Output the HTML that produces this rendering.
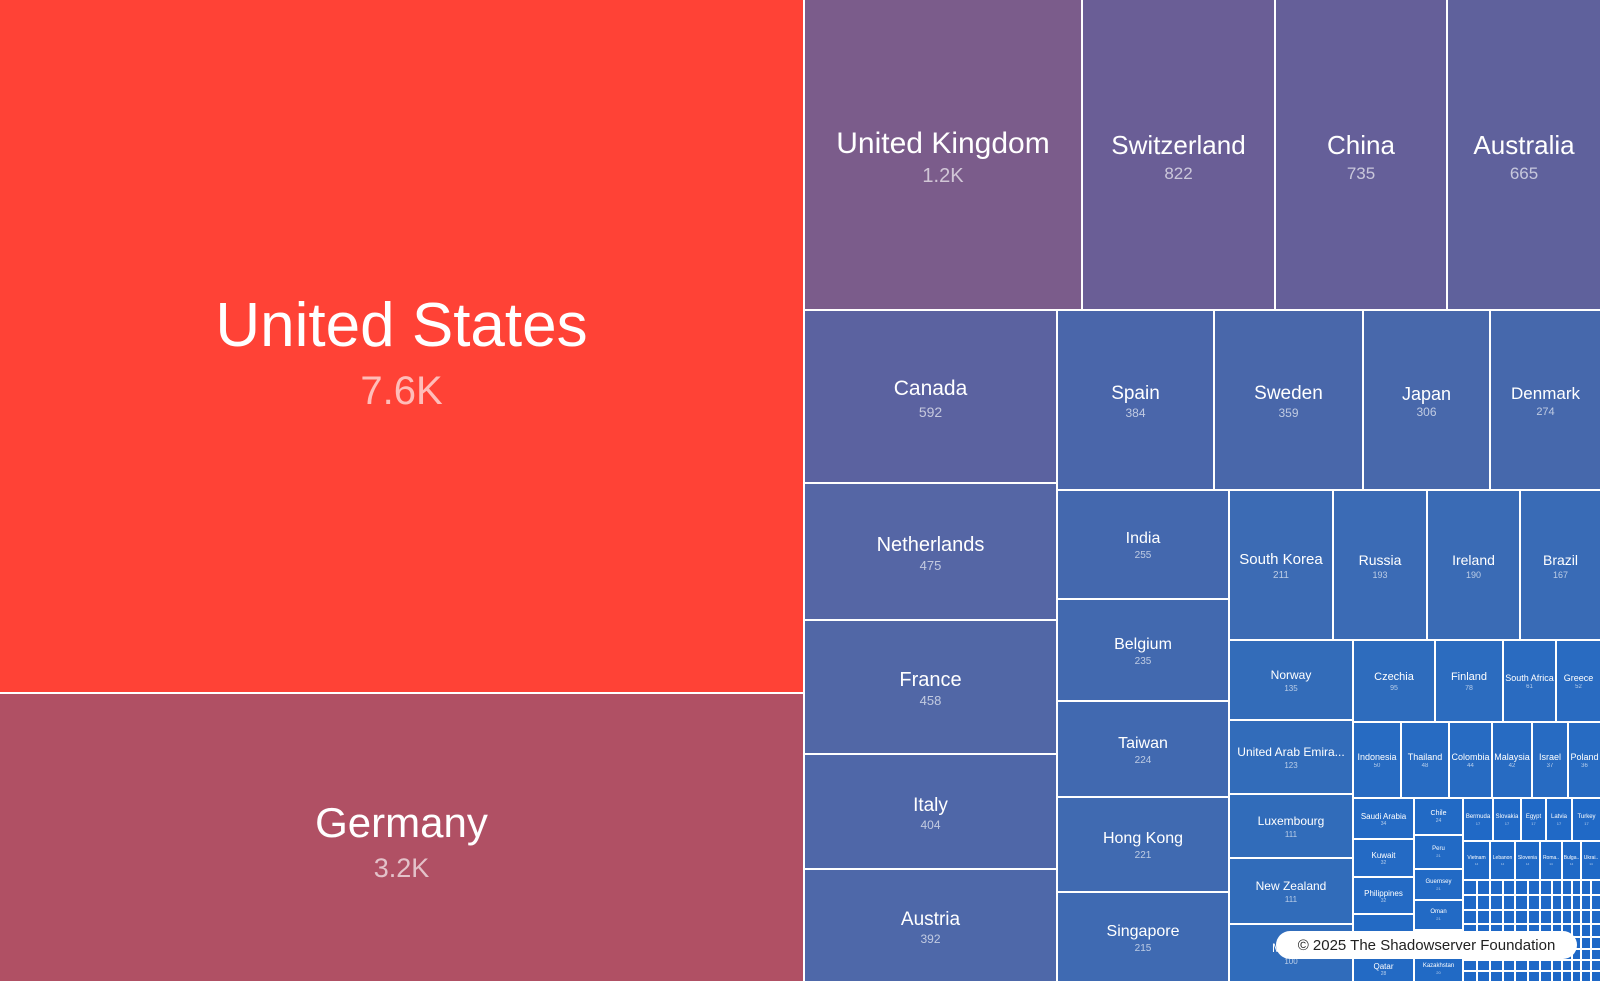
<!DOCTYPE html>
<html><head><meta charset="utf-8"><style>
html,body{margin:0;padding:0;background:#fff}
#c{position:relative;width:1600px;height:981px;overflow:hidden;font-family:"Liberation Sans",sans-serif}
.r{position:absolute;box-sizing:border-box;border:1px solid #fff;display:flex;flex-direction:column;align-items:center;justify-content:center;color:#fff;text-align:center;overflow:hidden;white-space:nowrap}
.r span{display:block;line-height:1.15}
.r .v{opacity:.65}
.badge{position:absolute;left:1276px;top:931px;width:301px;height:28px;background:#fff;border-radius:14px;font:15px "Liberation Sans",sans-serif;color:#222;display:flex;align-items:center;justify-content:center}
</style></head><body><div id="c"></div>
<script>
var C=document.getElementById('c');
function R(x1,y1,x2,y2,col,name,val,fs){
 var d=document.createElement('div');d.className='r';
 d.style.cssText+='left:'+x1+'px;top:'+y1+'px;width:'+(x2-x1)+'px;height:'+(y2-y1)+'px;background:'+col;
 if(name){d.innerHTML='<span style="font-size:'+fs+'px;margin-top:'+Math.round(fs*0.2)+'px">'+name+'</span><span class="v" style="font-size:'+Math.round(fs*0.65)+'px;margin-top:'+Math.round(fs*0.12)+'px">'+val+'</span>';}
 C.appendChild(d);
}
R(-1,-1,804,693,'#ff4236','United States','7.6K',62);
R(-1,693,804,982,'#b05064','Germany','3.2K',42);
R(804,-1,1082,310,'#7b5c8b','United Kingdom','1.2K',30);
R(1082,-1,1275,310,'#6a5e96','Switzerland','822',26);
R(1275,-1,1447,310,'#655f99','China','735',26);
R(1447,-1,1601,310,'#5f619c','Australia','665',26);
R(804,310,1057,483,'#5b62a0','Canada','592',21);
R(804,483,1057,620,'#5566a5','Netherlands','475',20);
R(804,620,1057,754,'#5167a6','France','458',20);
R(804,754,1057,869,'#4f67a8','Italy','404',19);
R(804,869,1057,982,'#4e68a9','Austria','392',19);
R(1057,310,1214,490,'#4a66aa','Spain','384',19);
R(1214,310,1363,490,'#4967aa','Sweden','359',19);
R(1363,310,1490,490,'#4868ab','Japan','306',18);
R(1490,310,1601,490,'#4668ac','Denmark','274',17);
R(1057,490,1229,599,'#4468ae','India','255',16);
R(1057,599,1229,701,'#4269af','Belgium','235',16);
R(1057,701,1229,797,'#4169b0','Taiwan','224',16);
R(1057,797,1229,892,'#406ab1','Hong Kong','221',16);
R(1057,892,1229,982,'#3f6ab2','Singapore','215',16);
R(1229,490,1333,640,'#3c6bb4','South Korea','211',15);
R(1333,490,1427,640,'#3b6bb5','Russia','193',14);
R(1427,490,1520,640,'#3a6bb5','Ireland','190',14);
R(1520,490,1601,640,'#396bb6','Brazil','167',14);
R(1229,640,1353,720,'#336cb9','Norway','135',12);
R(1229,720,1353,794,'#326cba','United Arab Emira...','123',12);
R(1229,794,1353,858,'#316cba','Luxembourg','111',12);
R(1229,858,1353,924,'#316cba','New Zealand','111',12);
R(1229,924,1353,982,'#306cbb','Mexico','100',12);
R(1353,640,1435,722,'#2e6cbd','Czechia','95',11);
R(1435,640,1503,722,'#2c6cbf','Finland','78',11);
R(1503,640,1556,722,'#2a6bc0','South Africa','61',9);
R(1556,640,1601,722,'#296bc1','Greece','52',9);
var ir=[[1353,1401,'Indonesia','50'],[1401,1449,'Thailand','48'],[1449,1492,'Colombia','44'],[1492,1532,'Malaysia','42'],[1532,1568,'Israel','37'],[1568,1601,'Poland','36']];
ir.forEach(function(a){R(a[0],722,a[1],798,'#276bc2',a[2],a[3],9);});
R(1353,798,1414,839,'#246ac4','Saudi Arabia','34',8);
R(1353,839,1414,877,'#246ac4','Kuwait','32',8);
R(1353,877,1414,914,'#246ac4','Philippines','32',8);
R(1353,914,1414,956,'#236ac4','','',8);
R(1353,956,1414,982,'#236ac4','Qatar','28',8);
R(1414,798,1463,835,'#226ac5','Chile','24',7);
R(1414,835,1463,869,'#226ac5','Peru','21',6);
R(1414,869,1463,900,'#226ac5','Guernsey','21',6);
R(1414,900,1463,930,'#226ac5','Oman','21',6);
R(1414,930,1463,956,'#216ac5','','',6);
R(1414,956,1463,982,'#216ac5','Kazakhstan','20',6);
var br=[[1463,1493,'Bermuda'],[1493,1521,'Slovakia'],[1521,1546,'Egypt'],[1546,1572,'Latvia'],[1572,1601,'Turkey']];
br.forEach(function(a){R(a[0],798,a[1],841,'#2069c6',a[2],'17',6);});
var vr=[[1463,1490,'Vietnam'],[1490,1515,'Lebanon'],[1515,1540,'Slovenia'],[1540,1562,'Roma..'],[1562,1581,'Bulga..'],[1581,1601,'Ukrai..']];
vr.forEach(function(a){R(a[0],841,a[1],880,'#1f69c6',a[2],'14',5);});
var xs=[1463,1477,1490,1503,1515,1528,1540,1552,1562,1572,1581,1591,1601];
var ys=[880,895,910,924,937,949,960,971,982];
for(var i=0;i<xs.length-1;i++)for(var j=0;j<ys.length-1;j++)R(xs[i],ys[j],xs[i+1],ys[j+1],'#1e68c7','','',5);
</script>
<div class="badge">© 2025 The Shadowserver Foundation</div>
</body></html>
